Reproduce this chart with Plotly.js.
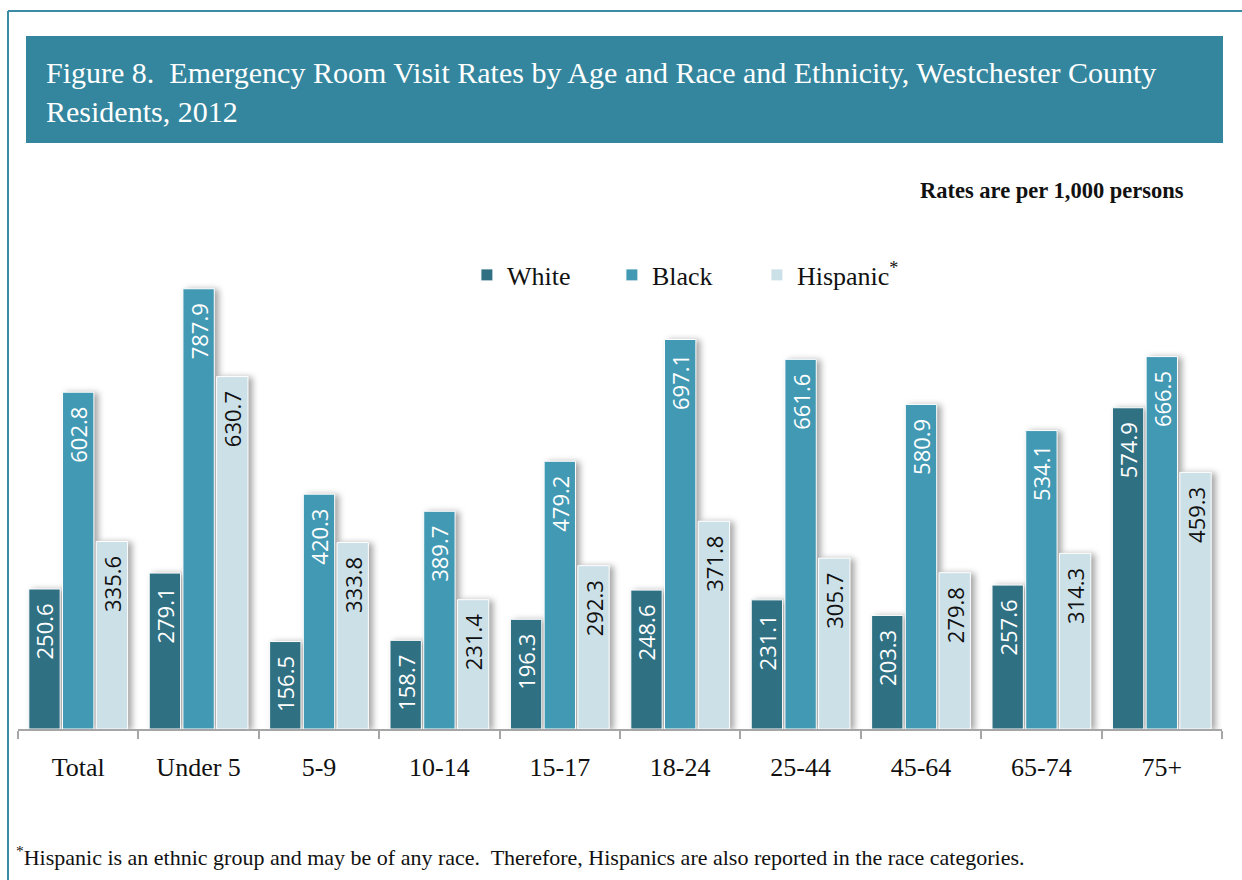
<!DOCTYPE html>
<html>
<head>
<meta charset="utf-8">
<script src="https://cdn.plot.ly/plotly-3.0.1.min.js"></script>
<style>
  html, body { margin: 0; padding: 0; background: #fff; }
  #chart { width: 1242px; height: 880px; }
  .bars .point path { filter: drop-shadow(4px 1px 3px rgba(0,0,0,0.35)); }
</style>
</head>
<body>
<div id="chart"></div>
<script>
const categories = ["Total", "Under 5", "5-9", "10-14", "15-17", "18-24", "25-44", "45-64", "65-74", "75+"];
const whiteRates = [250.6, 279.1, 156.5, 158.7, 196.3, 248.6, 231.1, 203.3, 257.6, 574.9];
const blackRates = [602.8, 787.9, 420.3, 389.7, 479.2, 697.1, 661.6, 580.9, 534.1, 666.5];
const hispanicRates = [335.6, 630.7, 333.8, 231.4, 292.3, 371.8, 305.7, 279.8, 314.3, 459.3];
const seriesNames = ["White", "Black", "Hispanic<sup>*</sup>"];

const titleText = "Figure 8.\u00a0 Emergency Room Visit Rates by Age and Race and Ethnicity, Westchester County<br>Residents, 2012";
const unitText = "<b>Rates are per 1,000 persons</b>";
const footText = "<sup>*</sup>Hispanic is an ethnic group and may be of any race.\u00a0 Therefore, Hispanics are also reported in the race categories.";

const serif = "Liberation Serif, Times New Roman, serif";
const sans = "Open Sans, DejaVu Sans, sans-serif";

function barTrace(name, values, color, textColor) {
  return {
    type: "bar",
    name: name,
    x: categories,
    y: values,
    marker: { color: color, line: { color: "#ffffff", width: 1 } },
    text: values.map(v => v.toFixed(1) + "\u00a0\u00a0"),
    textposition: "inside",
    insidetextanchor: "end",
    textangle: -90,
    constraintext: "none",
    cliponaxis: false,
    textfont: { family: sans, size: 22, color: textColor },
    hoverinfo: "x+y+name"
  };
}

const data = [
  barTrace(seriesNames[0], whiteRates, "#2F7083", "#ffffff"),
  barTrace(seriesNames[1], blackRates, "#4299B3", "#ffffff"),
  barTrace(seriesNames[2], hispanicRates, "#CCE0E8", "#111111")
];

const layout = {
  width: 1242,
  height: 880,
  paper_bgcolor: "#ffffff",
  plot_bgcolor: "#ffffff",
  margin: { l: 18, r: 20, t: 282, b: 151 },
  barmode: "group",
  bargap: 0.16,
  bargroupgap: 0.07,
  showlegend: true,
  legend: {
    orientation: "h",
    x: 0.5535, xanchor: "center",
    y: 1.0157, yanchor: "middle",
    font: { family: serif, size: 26, color: "#111111" },
    entrywidth: 100,
    bgcolor: "rgba(0,0,0,0)"
  },
  xaxis: {
    type: "category",
    showline: true,
    linecolor: "#a6a6a6",
    linewidth: 2,
    ticks: "outside",
    tickson: "boundaries",
    ticklen: 8,
    tickwidth: 2,
    tickcolor: "#a6a6a6",
    ticklabelstandoff: 14,
    tickfont: { family: serif, size: 26, color: "#111111" },
    showgrid: false,
    zeroline: false,
    fixedrange: true
  },
  yaxis: {
    range: [0, 800],
    visible: false,
    showgrid: false,
    zeroline: false,
    fixedrange: true
  },
  shapes: [
    { type: "line", xref: "paper", yref: "paper", x0: -0.0083, x1: -0.0083, y0: 1.6063, y1: -0.34, line: { color: "#3A8CA5", width: 2 } },
    { type: "line", xref: "paper", yref: "paper", x0: -0.0083, x1: 1.02, y0: 1.6063, y1: 1.6063, line: { color: "#3A8CA5", width: 2 } },
    { type: "rect", xref: "paper", yref: "paper", x0: 0.00664, x1: 1.00083, y0: 1.311, y1: 1.5503, fillcolor: "#33869E", line: { width: 0 }, layer: "below" }
  ],
  annotations: [
    { xref: "paper", yref: "paper", x: 0.0216, y: 1.425, xanchor: "left", yanchor: "middle", align: "left", showarrow: false,
      text: titleText, font: { family: serif, size: 30, color: "#ffffff" } },
    { xref: "paper", yref: "paper", x: 0.9701, y: 1.2058, xanchor: "right", yanchor: "middle", showarrow: false,
      text: unitText, font: { family: serif, size: 22.5, color: "#111111" } },
    { xref: "paper", yref: "paper", x: -0.0033, y: -0.2841, xanchor: "left", yanchor: "middle", showarrow: false,
      text: footText, font: { family: serif, size: 22, color: "#111111" } }
  ]
};

Plotly.newPlot("chart", data, layout, { displayModeBar: false, responsive: false });
</script>
</body>
</html>
